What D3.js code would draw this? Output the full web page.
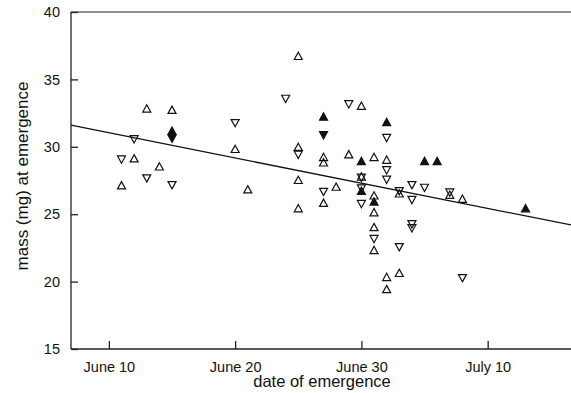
<!DOCTYPE html>
<html>
<head>
<meta charset="utf-8">
<script src="https://cdn.jsdelivr.net/npm/d3@7"></script>
<style>
  body { margin: 0; background: #fff; }
  text { font-family: "Liberation Sans", Arial, sans-serif; fill: #111; }
</style>
</head>
<body>
<div id="chart"></div>
<script>
// day of June (July 10 = 40), mass in mg, marker kind
const days = [11, 11, 12, 12, 13, 13, 14, 15, 15, 15, 15,
  20, 20, 21, 24, 25, 25, 25, 25, 25,
  27, 27, 27, 27, 27, 27, 28, 29, 29,
  30, 30, 30, 30, 30, 30, 30,
  31, 31, 31, 31, 31, 31, 31,
  32, 32, 32, 32, 32, 32, 32,
  33, 33, 33, 33, 34, 34, 34, 34,
  35, 35, 36, 37, 37, 38, 38, 43]
const masses = [27.1, 29.1, 29.1, 30.6, 32.8, 27.7, 28.5, 32.7, 31.15, 30.65, 27.2,
  31.8, 29.8, 26.8, 33.6, 36.7, 29.95, 29.45, 27.5, 25.4,
  32.2, 30.9, 29.2, 28.8, 26.7, 25.8, 27.0, 33.2, 29.4,
  33.0, 28.9, 27.75, 27.75, 26.95, 26.7, 25.8,
  29.2, 26.35, 25.9, 25.1, 24.0, 23.2, 22.3,
  31.8, 30.7, 29.0, 28.3, 27.6, 20.3, 19.4,
  26.75, 26.5, 22.6, 20.6, 27.2, 26.1, 24.3, 24.0,
  28.9, 27.0, 28.9, 26.65, 26.4, 26.1, 20.3, 25.4]
const kinds = ['up', 'down', 'up', 'down', 'up', 'down', 'up', 'up', 'upF', 'downF', 'down',
  'down', 'up', 'up', 'down', 'up', 'up', 'down', 'up', 'up',
  'upF', 'downF', 'up', 'up', 'down', 'up', 'up', 'down', 'up',
  'up', 'upF', 'up', 'down', 'down', 'upF', 'down',
  'up', 'up', 'upF', 'up', 'up', 'down', 'up',
  'upF', 'down', 'up', 'down', 'down', 'up', 'up',
  'down', 'up', 'down', 'up', 'down', 'down', 'down', 'down',
  'upF', 'down', 'upF', 'down', 'up', 'up', 'down', 'upF']

const xTicks = [10, 20, 30, 40]
const xTickLabels = ['June 10', 'June 20', 'June 30', 'July 10']
const yTicks = [15, 20, 25, 30, 35, 40]
const fitLine = [[7, 31.6], [46.6, 24.2]]

const W = 571, H = 393
const m = { l: 71, r: 0, t: 12, b: 44 }

const x = d3.scaleLinear().domain([7, 46.6]).range([m.l, W - m.r])
const y = d3.scaleLinear().domain([15, 40]).range([H - m.b, m.t])

const svg = d3.select('#chart').append('svg')
  .attr('width', W).attr('height', H)

// frame: top line, right side is left open
svg.append('line')
  .attr('x1', m.l).attr('x2', W).attr('y1', m.t).attr('y2', m.t)
  .attr('stroke', '#222').attr('stroke-width', 1.2)

const xAxis = svg.append('g')
  .attr('transform', `translate(0,${H - m.b})`)
  .call(d3.axisBottom(x).tickValues(xTicks).tickSize(-8).tickFormat((d, i) => xTickLabels[i]))
xAxis.select('.domain').attr('d', `M${m.l},0H${W}`).attr('stroke', '#222').attr('stroke-width', 1.3)
xAxis.selectAll('.tick line').attr('stroke', '#222').attr('stroke-width', 1.3)
xAxis.selectAll('.tick text').attr('y', 13).attr('font-size', 14.5)
  .style('font-family', '"Liberation Sans", Arial, sans-serif').attr('fill', '#111')

const yAxis = svg.append('g')
  .attr('transform', `translate(${m.l},0)`)
  .call(d3.axisLeft(y).tickValues(yTicks).tickSize(-7).tickPadding(11))
yAxis.select('.domain').attr('d', `M0,${m.t}V${H - m.b}`).attr('stroke', '#222').attr('stroke-width', 1.3)
yAxis.selectAll('.tick line').attr('stroke', '#222').attr('stroke-width', 1.3)
yAxis.selectAll('.tick text').attr('font-size', 14.5)
  .style('font-family', '"Liberation Sans", Arial, sans-serif').attr('fill', '#111')

// axis titles
svg.append('text')
  .attr('x', 322).attr('y', 387)
  .attr('text-anchor', 'middle').attr('font-size', 16.5)
  .text('date of emergence')

svg.append('text')
  .attr('transform', 'translate(28,176) rotate(-90)')
  .attr('text-anchor', 'middle').attr('font-size', 17)
  .text('mass (mg) at emergence')

// regression line
svg.append('path')
  .attr('d', d3.line().x(d => x(d[0])).y(d => y(d[1]))(fitLine))
  .attr('fill', 'none').attr('stroke', '#111').attr('stroke-width', 1.3)

// triangle markers
const triUp = { draw(ctx) { ctx.moveTo(0, -4.3); ctx.lineTo(4, 3); ctx.lineTo(-4, 3); ctx.closePath() } }
const triDown = { draw(ctx) { ctx.moveTo(0, 4.3); ctx.lineTo(4, -3); ctx.lineTo(-4, -3); ctx.closePath() } }

const pts = days.map((d, i) => ({ d, v: masses[i], k: kinds[i] }))

svg.append('g').selectAll('path')
  .data(pts)
  .enter()
  .append('path')
  .attr('transform', p => `translate(${x(p.d)},${y(p.v)})`)
  .attr('d', p => d3.symbol().type(p.k.startsWith('up') ? triUp : triDown)())
  .attr('fill', p => p.k.endsWith('F') ? '#111' : 'none')
  .attr('stroke', '#111')
  .attr('stroke-width', 1.2)
  .attr('stroke-linejoin', 'miter')
</script>
</body>
</html>
